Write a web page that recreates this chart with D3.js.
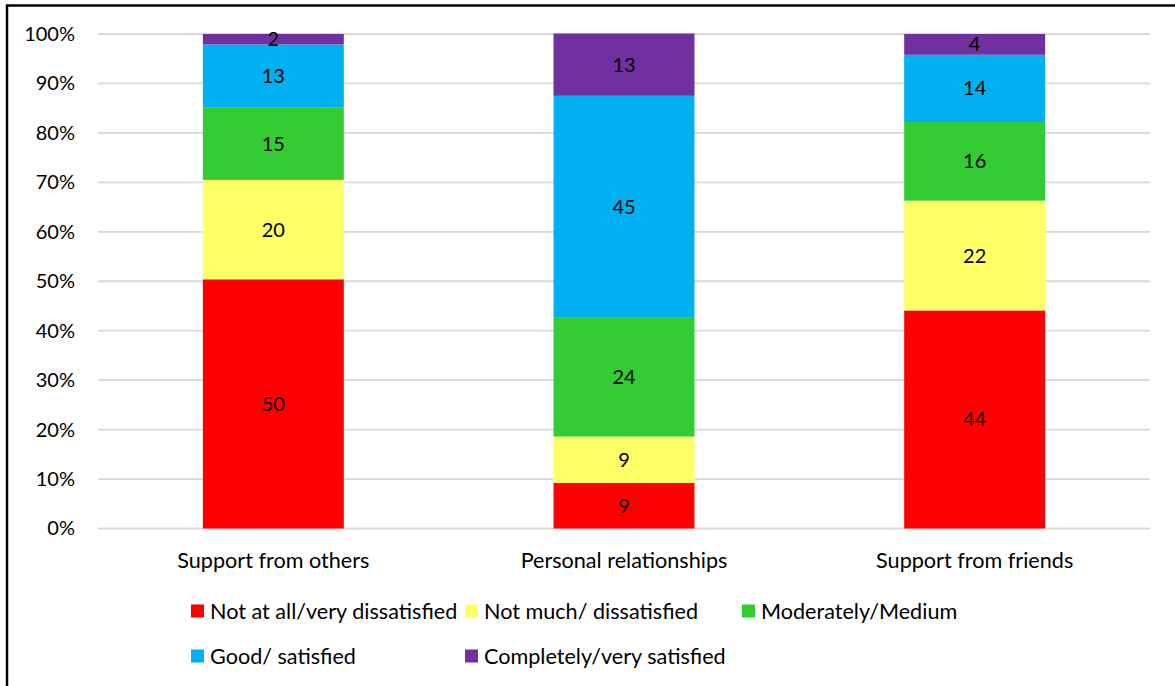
<!DOCTYPE html>
<html>
<head>
<meta charset="utf-8">
<script src="https://cdn.jsdelivr.net/npm/d3@7"></script>
<style>
  html, body { margin: 0; padding: 0; background: #fff; }
  svg { display: block; font-family: Lato, "Open Sans", sans-serif; }
</style>
</head>
<body>
<svg id="chart" width="1175" height="686"></svg>
<script>
// ---- data ----
const categories = ["Support from others", "Personal relationships", "Support from friends"];
const seriesNames = ["Not at all/very dissatisfied", "Not much/ dissatisfied", "Moderately/Medium", "Good/ satisfied", "Completely/very satisfied"];
const notAtAll   = [50.4, 9.2, 44.1];
const notMuch    = [20.1, 9.4, 22.2];
const moderately = [14.7, 24.0, 15.9];
const good       = [12.7, 44.9, 13.6];
const completely = [2.1, 12.6, 4.2];
const yTicks = [0, 10, 20, 30, 40, 50, 60, 70, 80, 90, 100];
const colors = ["#FF0000", "#FFFF66", "#33CC33", "#00B0F0", "#7030A0"];

const seriesValues = [notAtAll, notMuch, moderately, good, completely];
const rows = categories.map((c, i) => {
  const r = { category: c };
  seriesNames.forEach((s, j) => r[s] = seriesValues[j][i]);
  return r;
});

const svg = d3.select("#chart");
const numSize = 20;
const textSize = 21.6;

// border
svg.append("rect")
  .attr("x", 7).attr("y", 5.5).attr("width", 1200).attr("height", 720)
  .attr("fill", "none").attr("stroke", "#000").attr("stroke-width", 2.5);

const plot = { left: 98, right: 1150, top: 34, bottom: 528.5 };

const x = d3.scaleBand()
  .domain(categories)
  .range([plot.left, plot.right])
  .paddingInner(0.598)
  .paddingOuter(0.299);

const y = d3.scaleLinear().domain([0, 100]).range([plot.bottom, plot.top]);

// gridlines
svg.append("g")
  .selectAll("line")
  .data(yTicks)
  .join("line")
  .attr("x1", plot.left).attr("x2", plot.right)
  .attr("y1", d => y(d)).attr("y2", d => y(d))
  .attr("stroke", "#D9D9D9").attr("stroke-width", 1.8);

// y axis
const yAxis = svg.append("g")
  .attr("transform", `translate(${plot.left - 23},0)`)
  .call(d3.axisLeft(y).tickValues(yTicks).tickFormat(d => d + "%").tickSize(0).tickPadding(0));
yAxis.select(".domain").remove();
yAxis.selectAll("text").attr("font-size", numSize).attr("font-family", "Lato").attr("fill", "#000");

// x axis
const xAxis = svg.append("g")
  .attr("transform", `translate(0,${plot.bottom})`)
  .call(d3.axisBottom(x).tickSize(0).tickPadding(24));
xAxis.select(".domain").remove();
xAxis.selectAll("text").attr("font-size", textSize).attr("font-family", "Lato").attr("fill", "#000");

// stacks
const stack = d3.stack().keys(seriesNames);
const stacked = stack(rows);

const groups = svg.append("g").selectAll("g")
  .data(stacked)
  .join("g")
  .attr("fill", (d, i) => colors[i]);

groups.selectAll("rect")
  .data(d => d.map(v => ({ v, key: d.key })))
  .join("rect")
  .attr("x", d => x(d.v.data.category))
  .attr("width", x.bandwidth())
  .attr("y", d => y(d.v[1]))
  .attr("height", d => y(d.v[0]) - y(d.v[1]));

// labels
const fmt = d3.format(".0f");
groups.selectAll("text")
  .data(d => d.map(v => ({ v, key: d.key })))
  .join("text")
  .attr("x", d => x(d.v.data.category) + x.bandwidth() / 2)
  .attr("y", d => (y(d.v[0]) + y(d.v[1])) / 2)
  .attr("dy", "0.35em")
  .attr("text-anchor", "middle")
  .attr("font-size", numSize)
  .attr("fill", "#000")
  .text(d => fmt(d.v[1] - d.v[0]));

// legend
const legendPos = [
  { x: 191, y: 611 }, { x: 465, y: 611 }, { x: 742, y: 611 },
  { x: 191, y: 656 }, { x: 465, y: 656 }
];
const legend = svg.append("g").selectAll("g")
  .data(seriesNames)
  .join("g")
  .attr("transform", (d, i) => `translate(${legendPos[i].x},${legendPos[i].y})`);
legend.append("rect")
  .attr("x", 0).attr("y", -6.5).attr("width", 13).attr("height", 13)
  .attr("fill", (d, i) => colors[i]);
legend.append("text")
  .attr("x", 19).attr("y", 0).attr("dy", "0.35em")
  .attr("font-size", textSize).attr("fill", "#000")
  .text(d => d);
</script>
</body>
</html>
